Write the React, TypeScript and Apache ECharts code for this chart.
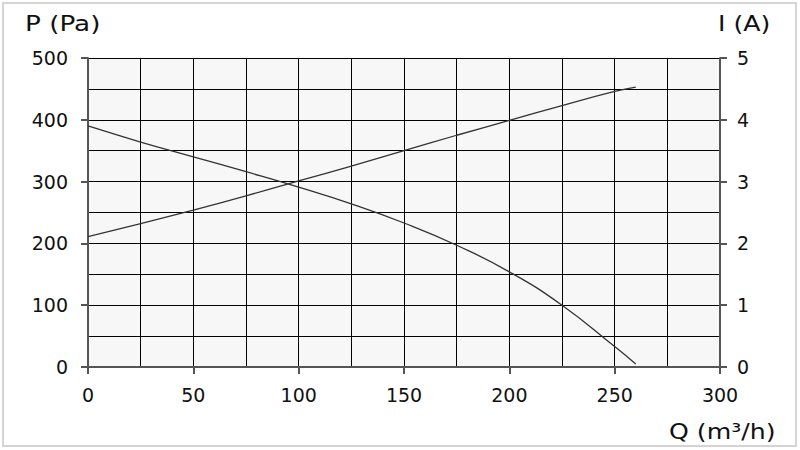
import React, { useEffect, useRef } from "react";
import * as echarts from "echarts";

const flowQ = [0, 25, 50, 75, 100, 125, 150, 175, 200, 225, 250, 260];
const pressure = [390, 364, 340, 316, 291, 264, 233, 197, 154, 100, 33, 5];
const current = [2.11, 2.32, 2.54, 2.77, 3.01, 3.25, 3.5, 3.75, 3.99, 4.23, 4.46, 4.53];

const pTitle = "P (Pa)";
const iTitle = "I (A)";
const qTitle = "Q (m³/h)";

const FONT = "DejaVu Sans";

export default function App() {
  const ref = useRef<HTMLDivElement>(null);
  useEffect(() => {
    if (!ref.current) return;
    const chart = echarts.init(ref.current, undefined, { renderer: "svg" });
    const axisLine = { show: true, lineStyle: { color: "#555", width: 2 } };
    const axisTick = { show: true, length: 7, lineStyle: { color: "#555", width: 2 } };
    const label = { color: "#111", fontSize: 19, fontFamily: FONT };
    const split = { show: true, lineStyle: { color: "#000", width: 1 } };
    chart.setOption({
      animation: false,
      backgroundColor: "#fff",
      grid: {
        left: 88,
        right: 80,
        top: 58,
        bottom: 83,
        show: true,
        backgroundColor: "#f7f7f7",
        borderWidth: 0,
      },
      xAxis: {
        type: "value",
        min: 0,
        max: 300,
        interval: 50,
        axisLine,
        axisTick,
        axisLabel: { ...label, margin: 18 },
        splitLine: split,
        minorTick: { show: false, splitNumber: 2 },
        minorSplitLine: { show: true, lineStyle: { color: "#000", width: 1 } },
      },
      yAxis: [
        {
          type: "value",
          min: 0,
          max: 500,
          interval: 100,
          axisLine,
          axisTick,
          axisLabel: { ...label, margin: 20 },
          splitLine: split,
          minorTick: { show: false, splitNumber: 2 },
          minorSplitLine: { show: true, lineStyle: { color: "#000", width: 1 } },
        },
        {
          type: "value",
          min: 0,
          max: 5,
          interval: 1,
          position: "right",
          axisLine,
          axisTick,
          axisLabel: { ...label, margin: 17 },
          splitLine: { show: false },
        },
      ],
      graphic: [
        {
          type: "rect",
          shape: { x: 3, y: 3, width: 793, height: 443 },
          style: { fill: "none", stroke: "#d4d4d4", lineWidth: 2 },
          silent: true,
        },
        {
          type: "text",
          x: 25,
          y: 24,
          scaleX: 1.25,
          style: { text: pTitle, fontSize: 21, fontFamily: FONT, fill: "#111", textAlign: "left", textVerticalAlign: "middle" },
        },
        {
          type: "text",
          x: 718,
          y: 23,
          scaleX: 1.2,
          style: { text: iTitle, fontSize: 21, fontFamily: FONT, fill: "#111", textAlign: "left", textVerticalAlign: "middle" },
        },
        {
          type: "text",
          x: 669,
          y: 431,
          scaleX: 1.2,
          style: { text: qTitle, fontSize: 21, fontFamily: FONT, fill: "#111", textAlign: "left", textVerticalAlign: "middle" },
        },
      ],
      series: [
        {
          type: "line",
          name: "P",
          yAxisIndex: 0,
          data: flowQ.map((q, i) => [q, pressure[i]]),
          smooth: 0.5,
          showSymbol: false,
          lineStyle: { color: "#333", width: 1.3 },
        },
        {
          type: "line",
          name: "I",
          yAxisIndex: 1,
          data: flowQ.map((q, i) => [q, current[i]]),
          smooth: 0.5,
          showSymbol: false,
          lineStyle: { color: "#333", width: 1.3 },
        },
      ],
    });
    return () => chart.dispose();
  }, []);
  return (
    <div
      ref={ref}
      style={{ position: "fixed", left: 0, top: 0, width: 800, height: 450 }}
    />
  );
}
